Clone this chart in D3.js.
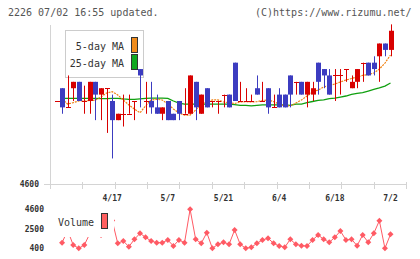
<!DOCTYPE html>
<html><head><meta charset="utf-8">
<script src="https://cdn.jsdelivr.net/npm/d3@7"></script>
<style>body{margin:0;background:#fff}svg{display:block}</style>
</head><body>
<script>
const title = "2226 07/02 16:55 updated.";
const credit = "(C)https://www.rizumu.net/";
const dateLabels = ["4/17","5/7","5/21","6/4","6/18","7/2"];
const dateLabelIdx = [10,20,30,40,50,60];
const priceTickLabels = [4600];
const volumeTickLabels = [4600, 2500, 400];

const open  = [5250,5350,5200,5350,5400,5250,5250,5400,5300,5350,5250,5100,5150,5150,5250,5500,5250,5250,5200,5150,5250,5150,5250,5150,5150,5400,5150,5350,5250,5250,5300,5300,5550,5250,5250,5250,5350,5250,5350,5200,5300,5300,5450,5400,5400,5300,5300,5550,5500,5450,5450,5450,5500,5350,5400,5550,5550,5550,5600,5700,5650];
const high  = [5250,5350,5450,5400,5400,5370,5400,5400,5350,5350,5300,5150,5300,5300,5250,5500,5400,5400,5300,5200,5250,5150,5250,5350,5450,5400,5300,5350,5250,5250,5300,5300,5550,5400,5350,5300,5450,5400,5350,5300,5350,5300,5450,5400,5400,5400,5400,5550,5500,5500,5500,5500,5500,5450,5500,5550,5550,5600,5700,5700,5850];
const low   = [5250,5150,5200,5250,5250,5150,5150,5100,5100,5000,4800,5100,5050,5150,5100,5200,5150,5150,5150,5100,5100,5100,5100,5150,5150,5100,5150,5200,5200,5150,5200,5200,5250,5250,5250,5250,5300,5250,5150,5200,5200,5200,5200,5300,5300,5200,5250,5300,5350,5300,5250,5300,5400,5350,5350,5400,5450,5450,5400,5600,5600];
const close = [5250,5200,5200,5400,5250,5250,5400,5300,5350,5350,5100,5150,5150,5150,5250,5450,5250,5200,5150,5200,5100,5100,5150,5150,5450,5200,5300,5200,5250,5250,5300,5200,5250,5250,5250,5250,5300,5250,5200,5200,5200,5200,5300,5400,5300,5400,5350,5400,5450,5300,5450,5450,5500,5400,5500,5550,5450,5500,5700,5650,5800];
const ma5  = [null,5266,5226,5237,5250,5252,5252,5258,5281,5313,5323,5297,5258,5219,5187,5158,5211,5258,5263,5258,5226,5187,5156,5140,5140,5179,5226,5245,5258,5258,5242,5237,5230,5242,5245,5242,5245,5254,5258,5245,5226,5211,5211,5234,5258,5289,5320,5336,5360,5371,5383,5399,5414,5426,5438,5450,5457,5469,5500,5547,5610];
const ma25 = [null,5271,5271,5271,5271,5271,5271,5271,5268,5268,5271,5271,5266,5262,5262,5266,5270,5273,5273,5273,5270,5250,5234,5226,5226,5226,5226,5226,5226,5226,5226,5226,5222,5215,5215,5211,5215,5219,5219,5219,5219,5219,5215,5226,5226,5237,5246,5254,5258,5268,5273,5281,5289,5301,5309,5316,5328,5340,5352,5367,5391];
const volume = [null,970,2300,723,368,723,1960,2000,1800,2200,3370,906,1154,540,1337,1983,1552,1154,971,971,1262,615,1262,971,4568,1337,906,2048,368,798,1014,798,2339,798,368,475,906,1262,1445,906,615,475,1337,798,648,615,1262,1800,1337,1014,1552,2231,1262,1337,648,1800,1014,1983,3340,368,1875];

const W = 420, H = 259;
const RED = "#d80000", BLUE = "#3c3cc0", ORANGE = "#f08010", GREEN = "#10a010", VOL = "#ff5a64";
const MONO = "'DejaVu Sans Mono', monospace";

const svg = d3.select("body").append("svg").attr("width", W).attr("height", H);
const n = close.length;
const x = d3.scaleLinear().domain([0, n - 1]).range([56.5, 390.5]);
const y = d3.scaleLinear().domain([4600, 5845]).range([184, 25]);
const yv = d3.scaleLinear().domain([400, 4600]).range([248, 209]);
const tickPos = d3.scaleLinear().domain([0, 11]).range([50, 406]);

// header texts
svg.append("text").attr("x", 8).attr("y", 16).attr("font-family", MONO).attr("font-size", 10)
  .attr("fill", "#555").text(title);
svg.append("text").attr("x", 255).attr("y", 16).attr("font-family", MONO).attr("font-size", 10)
  .attr("fill", "#555").text(credit);

// axes
const axisColor = "#d4d4d4";
svg.append("line").attr("x1", 50.5).attr("x2", 50.5).attr("y1", 25).attr("y2", 184).attr("stroke", axisColor);
svg.append("line").attr("x1", 44).attr("x2", 406).attr("y1", 184.5).attr("y2", 184.5).attr("stroke", axisColor);
svg.append("g").selectAll("line").data(d3.range(12)).join("line")
  .attr("x1", d => Math.round(tickPos(d)) + 0.5).attr("x2", d => Math.round(tickPos(d)) + 0.5)
  .attr("y1", 182).attr("y2", 189).attr("stroke", axisColor);
svg.append("g").selectAll("text").data(priceTickLabels).join("text")
  .attr("x", 39).attr("y", d => y(d) + 3).attr("text-anchor", "end")
  .attr("font-family", MONO).attr("font-size", 8).attr("font-weight", "bold").attr("fill", "#333").text(d => d);
svg.append("g").selectAll("text").data(dateLabelIdx).join("text")
  .attr("x", d => x(d)).attr("y", 201).attr("text-anchor", "middle")
  .attr("font-family", MONO).attr("font-size", 8).attr("font-weight", "bold").attr("fill", "#333")
  .text((d, i) => dateLabels[i]);

// legend (price)
svg.append("rect").attr("x", 65.5).attr("y", 30.5).attr("width", 78).attr("height", 47)
  .attr("fill", "#fff").attr("stroke", "#ccc");
svg.append("text").attr("x", 124).attr("y", 50).attr("text-anchor", "end").attr("font-family", MONO)
  .attr("font-size", 10).attr("fill", "#333").text("5-day MA");
svg.append("text").attr("x", 124).attr("y", 67).attr("text-anchor", "end").attr("font-family", MONO)
  .attr("font-size", 10).attr("fill", "#333").text("25-day MA");
svg.append("rect").attr("x", 131.5).attr("y", 37.5).attr("width", 6).attr("height", 15)
  .attr("fill", "#f08c1c").attr("stroke", "#333");
svg.append("rect").attr("x", 131.5).attr("y", 54.5).attr("width", 6).attr("height", 15)
  .attr("fill", "#10a820").attr("stroke", "#333");

// MA lines
const lineMA = d3.line().defined(d => d != null).x((d, i) => x(i)).y(d => y(d));
svg.append("path").datum(ma25).attr("d", lineMA).attr("fill", "none").attr("stroke", GREEN).attr("stroke-width", 1.3);
svg.append("path").datum(ma5).attr("d", lineMA).attr("fill", "none").attr("stroke", ORANGE)
  .attr("stroke-width", 1.2).attr("stroke-dasharray", "2,1");

// candles
const idx = d3.range(n);
const cg = svg.append("g");
idx.forEach(i => {
  const col = close[i] >= open[i] ? RED : BLUE;
  const cx = Math.round(x(i));
  const top = y(Math.max(open[i], close[i])), bot = y(Math.min(open[i], close[i]));
  cg.append("line").attr("x1", cx + 0.5).attr("x2", cx + 0.5)
    .attr("y1", y(high[i])).attr("y2", y(low[i])).attr("stroke", col).attr("stroke-width", 1);
  if (bot - top < 1.5) {
    cg.append("rect").attr("x", cx - 2).attr("y", Math.round(top)).attr("width", 5).attr("height", 1).attr("fill", col);
  } else {
    cg.append("rect").attr("x", cx - 2).attr("y", top).attr("width", 5).attr("height", bot - top).attr("fill", col);
  }
});

// volume
const lineV = d3.line().defined(d => d != null).x((d, i) => x(i)).y(d => yv(d));
svg.append("path").datum(volume).attr("d", lineV).attr("fill", "none").attr("stroke", VOL).attr("stroke-width", 1);
svg.append("g").selectAll("path").data(idx.filter(i => volume[i] != null)).join("path")
  .attr("d", d3.symbol(d3.symbolSquare, 18))
  .attr("transform", i => `translate(${x(i)},${yv(volume[i])}) rotate(45)`)
  .attr("fill", VOL);

// volume legend
svg.append("rect").attr("x", 64).attr("y", 204).attr("width", 50).attr("height", 33).attr("fill", "#fff");
svg.append("text").attr("x", 58).attr("y", 226).attr("font-family", MONO).attr("font-size", 10)
  .attr("fill", "#333").text("Volume");
svg.append("rect").attr("x", 101.5).attr("y", 213.5).attr("width", 6).attr("height", 15)
  .attr("fill", "#ff6060").attr("stroke", "#333");
svg.append("g").selectAll("text").data(volumeTickLabels).join("text")
  .attr("x", 44).attr("y", d => yv(d) + 3).attr("text-anchor", "end")
  .attr("font-family", MONO).attr("font-size", 8).attr("font-weight", "bold").attr("fill", "#333").text(d => d);
</script>
</body></html>
